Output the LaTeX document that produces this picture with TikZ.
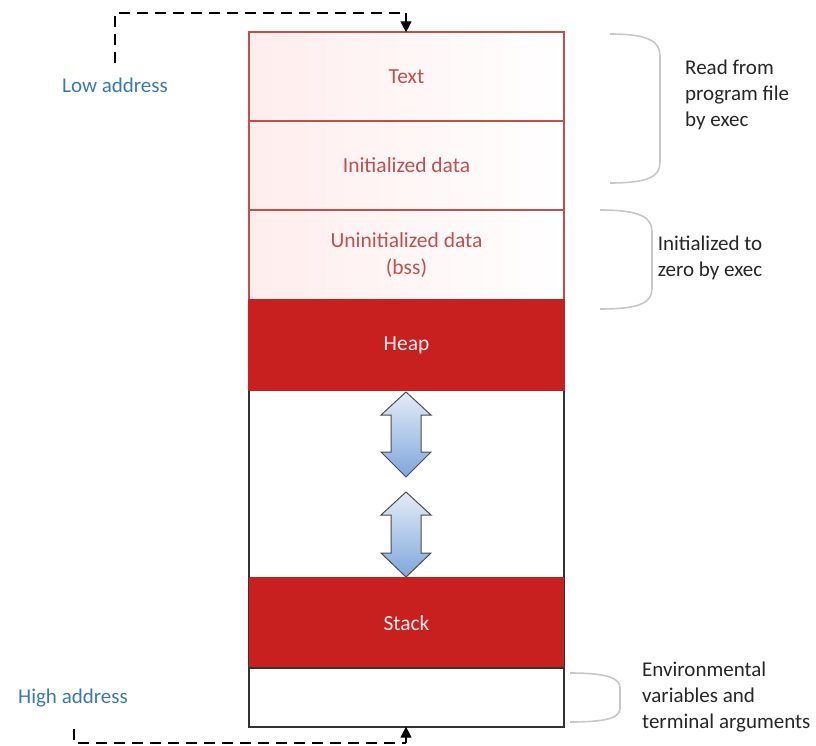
\documentclass[tikz,border=0pt]{standalone}
\usepackage{fontspec}
\setmainfont{Carlito}
\usetikzlibrary{arrows.meta}

\definecolor{segred}{HTML}{C8201E}
\definecolor{segline}{HTML}{C0504D}
\definecolor{segtext}{HTML}{C0504D}
\definecolor{addrblue}{HTML}{3A78B5}
\definecolor{bracegray}{HTML}{C8C8C8}
\definecolor{arrowtop}{HTML}{E4ECF7}
\definecolor{arrowbot}{HTML}{7FA6DC}

\tikzset{
  lightcell/.style={draw=segline, line width=1.2pt, left color=red!7, right color=white,
    minimum width=315pt, inner sep=0pt, text=segtext, align=center,
    font=\fontsize{21.5}{27}\selectfont},
  redcell/.style={draw=segred, fill=segred, line width=1.2pt,
    minimum width=315pt, inner sep=0pt, text=white!92!red,
    font=\fontsize{21.5}{27}\selectfont},
  plaincell/.style={draw=black!80, line width=1.2pt, fill=white,
    minimum width=315pt, inner sep=0pt},
  addr/.style={text=addrblue, font=\fontsize{21}{26}\selectfont, anchor=west, inner sep=0pt},
  note/.style={text=black!85, font=\fontsize{21}{26}\selectfont, inner sep=0pt},
  guide/.style={draw=black, line width=1.3pt, dash pattern=on 11pt off 7pt},
  guidetip/.style={-{Triangle[width=11pt,length=11pt]}},
  brace/.style={draw=bracegray, line width=1.6pt},
  growarrow/.style={draw=black!70, line width=1pt, top color=arrowtop, bottom color=arrowbot}
}

\begin{document}
\begin{tikzpicture}[x=1pt,y=-1pt]
\useasboundingbox (0,0) rectangle (816,746);

% outer frame of the lower (runtime) part
\node[plaincell, minimum height=337pt] (lower) at (406.5,558.5) {};

% memory segments, top to bottom
\node[lightcell, minimum height=89pt] (text) at (406.5,76.5) {Text};
\node[lightcell, minimum height=89pt] (idata) at (406.5,165.5) {Initialized data};
\node[lightcell, minimum height=90pt] (bss) at (406.5,255) {Uninitialized data\\(bss)};
\node[redcell, minimum height=90pt] (heap) at (406.5,345) {Heap};
\node[redcell, minimum height=90pt] (stack) at (406.5,623) {Stack};
\node[plaincell, minimum height=59pt] (env) at (406.5,697.5) {};
\draw[draw=black!80, line width=1.2pt] (stack.north west) -- (env.south west) -- (env.south east) -- (stack.north east);

% heap / stack growth arrows
\path[growarrow] (406,392) -- (431,415) -- (421,415) -- (421,452) -- (431,452)
  -- (406,477) -- (381,452) -- (391,452) -- (391,415) -- (381,415) -- cycle;
\path[growarrow] (406,492) -- (431,515) -- (421,515) -- (421,553) -- (431,553)
  -- (406,577) -- (381,553) -- (391,553) -- (391,515) -- (381,515) -- cycle;

% address labels and guide lines
\node[addr] (low) at (62,85) {Low address};
\node[addr] (high) at (18,698) {High address};
\coordinate (lowstart) at (115,63);
\coordinate (lowtop) at (406,13);
\coordinate (highstart) at (74,729);
\coordinate (highbot) at (406,743);
\draw[guide] (lowstart) -- (lowstart |- lowtop) -- (lowtop);
\draw[line width=1.2pt, guidetip] (lowtop) -- ([yshift=-1pt]text.north -| lowtop);
\draw[guide] (highstart) -- (highstart |- highbot) -- (highbot);
\draw[line width=1.2pt, guidetip] (highbot) -- ([yshift=1pt]env.south -| highbot);

% braces and their notes
\path[brace] (610,34) .. controls (650,34) and (660,42) .. (660,56) -- (660,162)
  .. controls (660,176) and (650,183) .. (610,183);
\path[brace] (600,210) .. controls (642,210) and (652,218) .. (652,232) -- (652,288)
  .. controls (652,302) and (642,309) .. (600,309);
\path[brace] (570,673) .. controls (610,673) and (620,679) .. (620,688) -- (620,708)
  .. controls (620,717) and (610,722) .. (570,722);

\node[note, anchor=north west, align=left] (n1) at (685,60) {Read from\\program file\\by exec};
\node[note, anchor=north, align=center] (n2) at (710,236) {Initialized to\\zero by exec};
\node[note, anchor=north west, align=left] (n3) at (642,662) {Environmental\\variables and\\terminal arguments};
\end{tikzpicture}
\end{document}
